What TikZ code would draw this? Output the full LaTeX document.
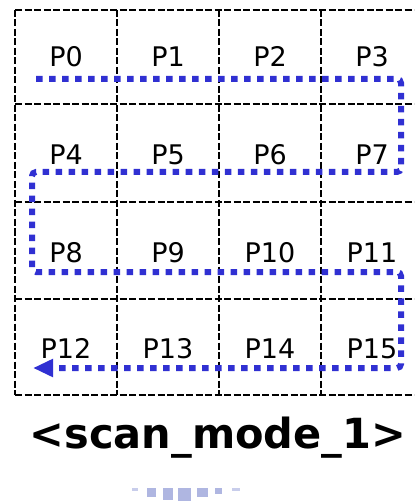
\documentclass[tikz,border=0pt]{standalone}
\usepackage{fontspec}
\setmainfont{DejaVu Sans}
\usetikzlibrary{arrows.meta}
\definecolor{scanblue}{RGB}{48,48,210}
\definecolor{faint}{RGB}{175,182,225}
\definecolor{fainter}{RGB}{200,205,235}
\tikzset{
  gridline/.style={line width=2pt, black, dash pattern=on 7pt off 2.5pt},
  scanpath/.style={line width=6pt, scanblue, dash pattern=on 6.5pt off 6.5pt, rounded corners=4pt},
  plabel/.style={anchor=base, inner sep=0pt, font=\fontsize{27}{27}\selectfont},
  titletext/.style={anchor=base, inner sep=0pt, font=\fontsize{41.5}{41.5}\selectfont\bfseries},
  blob/.style={fill=faint, draw=none},
  smallblob/.style={fill=fainter, draw=none}
}
\begin{document}
\begin{tikzpicture}[x=1pt,y=-1pt]
\useasboundingbox (0,0) rectangle (414,502);
% grid
\foreach \x in {15,117,219,321}
  \draw[gridline] (\x,10) -- (\x,395);
\foreach \y in {10,104,202,299,395}
  \draw[gridline] (15,\y) -- (414,\y);
% labels
\foreach \r/\by in {0/67,1/165,2/262,3/358}
  \foreach \c/\cx in {0/66,1/168,2/270,3/372}{
    \pgfmathtruncatemacro{\n}{4*\r+\c}
    \node[plabel] (p\n) at (\cx,\by) {P\n};
  }
% scan path
\coordinate (s0) at (36,79);
\coordinate (s1) at (401,79);
\coordinate (s2) at (401,172);
\coordinate (s3) at (32,172);
\coordinate (s4) at (32,272);
\coordinate (s5) at (401,272);
\coordinate (s6) at (401,368);
\coordinate (s7) at (33,368);
\draw[scanpath, -{Triangle[length=20pt,width=17pt]}] (s0) -- (s1) -- (s2) -- (s3) -- (s4) -- (s5) -- (s6) -- (s7);
% title
\node[titletext] (title) at (218,448) {<scan\_mode\_1>};
% faint caption
\fill[smallblob] (132,488) rectangle (138,491);
\fill[smallblob] (232,488) rectangle (240,491);
\foreach \a/\b/\t/\u in {147/156/488/497,163/173/488/500,178/191/488/501,197/208/488/497,215/222/488/494}
  \fill[blob] (\a,\t) rectangle (\b,\u);
\end{tikzpicture}
\end{document}
